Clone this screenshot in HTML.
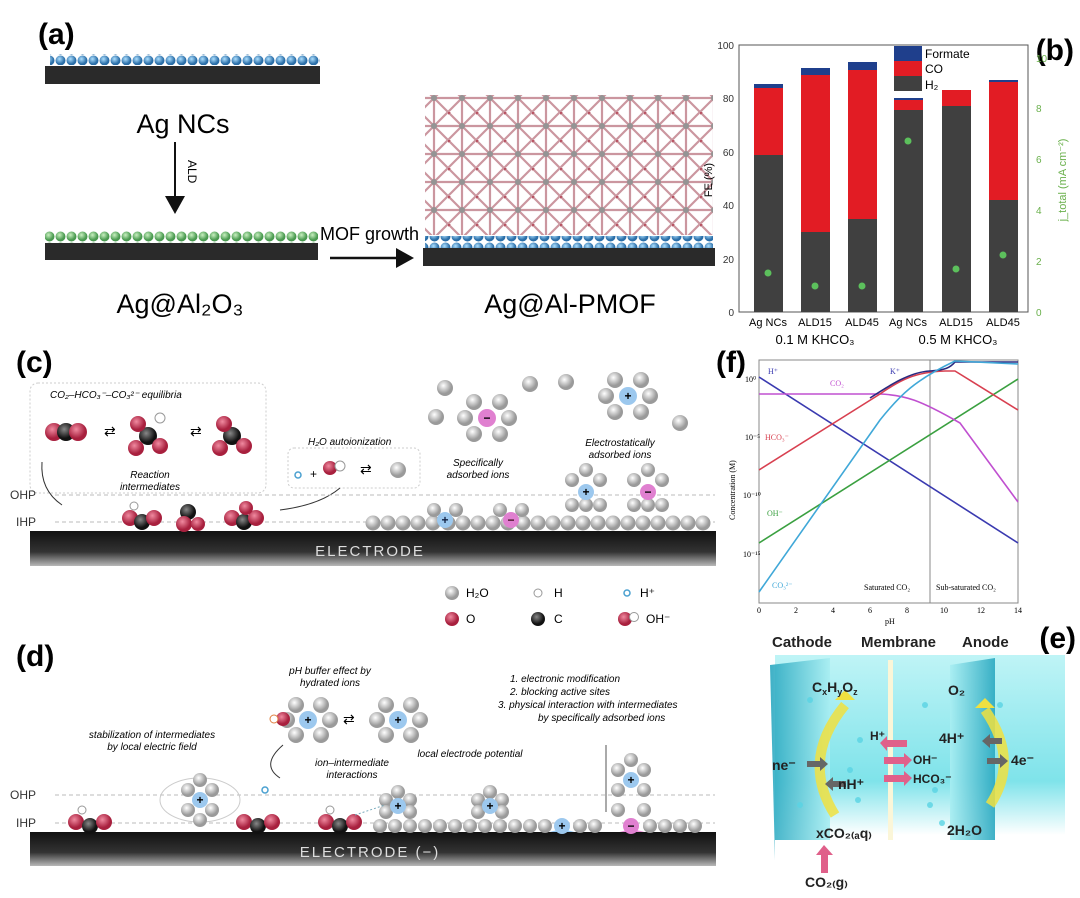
<!DOCTYPE html>
<html><head><meta charset="utf-8"><style>
html,body{margin:0;padding:0;background:#fff}
svg{display:block;font-family:"Liberation Sans",Arial,sans-serif}
</style></head><body>
<svg width="1080" height="898" viewBox="0 0 1080 898" xmlns="http://www.w3.org/2000/svg">
<defs>
<radialGradient id="wb" cx="40%" cy="35%"><stop offset="0" stop-color="#fff"/><stop offset="1" stop-color="#9a9a9a"/></radialGradient>
<radialGradient id="rb" cx="40%" cy="35%"><stop offset="0" stop-color="#f08aa0"/><stop offset="1" stop-color="#a8203e"/></radialGradient>
<radialGradient id="kb" cx="40%" cy="35%"><stop offset="0" stop-color="#888"/><stop offset="1" stop-color="#111"/></radialGradient>
<radialGradient id="bl" cx="40%" cy="35%"><stop offset="0" stop-color="#aee0ff"/><stop offset="1" stop-color="#2a6ea8"/></radialGradient>
<radialGradient id="gr" cx="40%" cy="35%"><stop offset="0" stop-color="#c8f0c0"/><stop offset="1" stop-color="#4a9a50"/></radialGradient>
<linearGradient id="el" x1="0" y1="0" x2="0" y2="1"><stop offset="0" stop-color="#111"/><stop offset="0.6" stop-color="#333"/><stop offset="1" stop-color="#b8b8b8"/></linearGradient>
<linearGradient id="cy" x1="0" y1="0" x2="0" y2="1"><stop offset="0" stop-color="#bff4f6"/><stop offset="0.7" stop-color="#7fe3ea"/><stop offset="1" stop-color="#fff"/></linearGradient>
<linearGradient id="cp" x1="0" y1="0" x2="1" y2="0"><stop offset="0" stop-color="#2aa8c0"/><stop offset="1" stop-color="#a8eef2"/></linearGradient>
<pattern id="blr" width="11" height="11" patternUnits="userSpaceOnUse"><circle cx="5.5" cy="5.5" r="5" fill="url(#bl)"/></pattern>
<pattern id="grr" width="11" height="11" patternUnits="userSpaceOnUse"><circle cx="5.5" cy="5.5" r="5" fill="url(#gr)"/></pattern>
<pattern id="mof" width="28" height="28" patternUnits="userSpaceOnUse"><path d="M0 0L28 28M28 0L0 28M14 0V28M0 14H28" stroke="#c58a94" stroke-width="2.2"/><circle cx="14" cy="14" r="3" fill="#888"/><circle cx="0" cy="0" r="2.5" fill="#b04050"/></pattern>
</defs>

<!-- (a) -->
<text x="38" y="44" font-size="30" font-weight="bold">(a)</text>
<rect x="50" y="54" width="270" height="11" fill="url(#blr)"/>
<rect x="45" y="66" width="275" height="18" fill="#2a2a2a"/>
<text x="183" y="133" font-size="27" text-anchor="middle">Ag NCs</text>
<line x1="175" y1="142" x2="175" y2="198" stroke="#111" stroke-width="2"/>
<polygon points="165,196 185,196 175,214" fill="#111"/>
<text x="188" y="160" font-size="12" transform="rotate(90 188 160)">ALD</text>
<rect x="45" y="231" width="273" height="12" fill="url(#grr)"/>
<rect x="45" y="243" width="273" height="17" fill="#2a2a2a"/>
<text x="180" y="313" font-size="27" text-anchor="middle">Ag@Al₂O₃</text>
<text x="320" y="240" font-size="18">MOF growth</text>
<line x1="330" y1="258" x2="398" y2="258" stroke="#111" stroke-width="2.5"/>
<polygon points="396,248 414,258 396,268" fill="#111"/>
<rect x="425" y="95" width="288" height="140" fill="url(#mof)" opacity="0.9"/>
<rect x="425" y="236" width="288" height="12" fill="url(#blr)"/>
<rect x="423" y="248" width="292" height="18" fill="#2a2a2a"/>
<text x="570" y="313" font-size="27" text-anchor="middle">Ag@Al-PMOF</text>

<!-- (b) -->
<text x="1074" y="60" font-size="30" font-weight="bold" text-anchor="end">(b)</text>
<rect x="739" y="45" width="289" height="267" fill="none" stroke="#555"/>
<g font-size="10" fill="#333" text-anchor="end">
<text x="734" y="49">100</text><text x="734" y="102">80</text><text x="734" y="156">60</text><text x="734" y="209">40</text><text x="734" y="263">20</text><text x="734" y="316">0</text></g>
<text x="712" y="180" font-size="11" text-anchor="middle" transform="rotate(-90 712 180)">FE (%)</text>
<g font-size="10" fill="#6ab04c"><text x="1036" y="62">10</text><text x="1036" y="112">8</text><text x="1036" y="163">6</text><text x="1036" y="214">4</text><text x="1036" y="265">2</text><text x="1036" y="316">0</text></g>
<text x="1066" y="180" font-size="11" fill="#6ab04c" text-anchor="middle" transform="rotate(-90 1066 180)">j_total (mA cm⁻²)</text>
<g>
<rect x="754" y="155" width="29" height="157" fill="#404040"/><rect x="754" y="88" width="29" height="67" fill="#e21c24"/><rect x="754" y="84" width="29" height="4" fill="#1f3f8c"/>
<rect x="801" y="232" width="29" height="80" fill="#404040"/><rect x="801" y="75" width="29" height="157" fill="#e21c24"/><rect x="801" y="68" width="29" height="7" fill="#1f3f8c"/>
<rect x="848" y="219" width="29" height="93" fill="#404040"/><rect x="848" y="70" width="29" height="149" fill="#e21c24"/><rect x="848" y="62" width="29" height="8" fill="#1f3f8c"/>
<rect x="894" y="110" width="29" height="202" fill="#404040"/><rect x="894" y="100" width="29" height="10" fill="#e21c24"/><rect x="894" y="98" width="29" height="2" fill="#1f3f8c"/>
<rect x="942" y="106" width="29" height="206" fill="#404040"/><rect x="942" y="90" width="29" height="16" fill="#e21c24"/>
<rect x="989" y="200" width="29" height="112" fill="#404040"/><rect x="989" y="82" width="29" height="118" fill="#e21c24"/><rect x="989" y="80" width="29" height="2" fill="#1f3f8c"/>
</g>
<g fill="#5cc05c"><circle cx="768" cy="273" r="3.5"/><circle cx="815" cy="286" r="3.5"/><circle cx="862" cy="286" r="3.5"/><circle cx="908" cy="141" r="3.5"/><circle cx="956" cy="269" r="3.5"/><circle cx="1003" cy="255" r="3.5"/></g>
<rect x="894" y="46" width="28" height="15" fill="#1f3f8c"/><rect x="894" y="61" width="28" height="15" fill="#e21c24"/><rect x="894" y="76" width="28" height="15" fill="#404040"/>
<g font-size="12"><text x="925" y="58">Formate</text><text x="925" y="73">CO</text><text x="925" y="89">H₂</text></g>
<g font-size="11" text-anchor="middle"><text x="768" y="326">Ag NCs</text><text x="815" y="326">ALD15</text><text x="862" y="326">ALD45</text><text x="908" y="326">Ag NCs</text><text x="956" y="326">ALD15</text><text x="1003" y="326">ALD45</text></g>
<g font-size="13" text-anchor="middle"><text x="815" y="344">0.1 M KHCO₃</text><text x="958" y="344">0.5 M KHCO₃</text></g>

<!-- (c) -->
<text x="16" y="372" font-size="30" font-weight="bold">(c)</text>
<rect x="30" y="383" width="236" height="110" rx="8" fill="none" stroke="#ccc" stroke-dasharray="2 2"/>
<text x="50" y="398" font-size="10" font-style="italic">CO₂–HCO₃⁻–CO₃²⁻ equilibria</text>
<g><circle cx="54" cy="432" r="9" fill="url(#rb)"/><circle cx="66" cy="432" r="9" fill="url(#kb)"/><circle cx="78" cy="432" r="9" fill="url(#rb)"/>
<text x="104" y="436" font-size="14">⇄</text>
<circle cx="148" cy="436" r="9" fill="url(#kb)"/><circle cx="138" cy="424" r="8" fill="url(#rb)"/><circle cx="160" cy="446" r="8" fill="url(#rb)"/><circle cx="136" cy="448" r="8" fill="url(#rb)"/><circle cx="160" cy="418" r="5" fill="#fff" stroke="#999"/>
<text x="190" y="436" font-size="14">⇄</text>
<circle cx="232" cy="436" r="9" fill="url(#kb)"/><circle cx="224" cy="424" r="8" fill="url(#rb)"/><circle cx="244" cy="446" r="8" fill="url(#rb)"/><circle cx="220" cy="448" r="8" fill="url(#rb)"/></g>
<text x="150" y="478" font-size="10" font-style="italic" text-anchor="middle">Reaction</text>
<text x="150" y="490" font-size="10" font-style="italic" text-anchor="middle">intermediates</text>
<path d="M42 462 Q40 490 62 505" fill="none" stroke="#333"/>
<rect x="288" y="448" width="132" height="40" rx="6" fill="none" stroke="#ccc" stroke-dasharray="2 2"/>
<text x="308" y="445" font-size="10" font-style="italic">H₂O autoionization</text>
<circle cx="298" cy="475" r="3" fill="none" stroke="#4aa0d0" stroke-width="1.5"/><text x="310" y="478" font-size="12">+</text>
<circle cx="330" cy="468" r="7" fill="url(#rb)"/><circle cx="340" cy="466" r="5" fill="#fff" stroke="#999"/>
<text x="360" y="474" font-size="14">⇄</text><circle cx="398" cy="470" r="8" fill="url(#wb)"/>
<path d="M340 488 Q320 505 280 510" fill="none" stroke="#333"/>
<g stroke="#bbb" stroke-dasharray="4 3"><line x1="55" y1="495" x2="715" y2="495"/><line x1="55" y1="522" x2="715" y2="522"/></g>
<text x="10" y="499" font-size="12" fill="#333">OHP</text><text x="16" y="526" font-size="12" fill="#333">IHP</text>
<rect x="30" y="531" width="686" height="35" fill="url(#el)"/>
<text x="370" y="556" font-size="15" fill="#ddd" text-anchor="middle" letter-spacing="2">ELECTRODE</text>
<g><circle cx="130" cy="518" r="8" fill="url(#rb)"/><circle cx="142" cy="522" r="8" fill="url(#kb)"/><circle cx="154" cy="518" r="8" fill="url(#rb)"/><circle cx="134" cy="506" r="4" fill="#fff" stroke="#999"/>
<circle cx="188" cy="512" r="8" fill="url(#kb)"/><circle cx="184" cy="524" r="8" fill="url(#rb)"/><circle cx="198" cy="524" r="7" fill="url(#rb)"/>
<circle cx="232" cy="518" r="8" fill="url(#rb)"/><circle cx="244" cy="522" r="8" fill="url(#kb)"/><circle cx="256" cy="518" r="8" fill="url(#rb)"/><circle cx="246" cy="508" r="7" fill="url(#rb)"/></g>
<g fill="url(#wb)">
<circle cx="373" cy="523" r="7.5"/><circle cx="388" cy="523" r="7.5"/><circle cx="403" cy="523" r="7.5"/><circle cx="418" cy="523" r="7.5"/><circle cx="433" cy="523" r="7.5"/><circle cx="448" cy="523" r="7.5"/><circle cx="463" cy="523" r="7.5"/><circle cx="478" cy="523" r="7.5"/><circle cx="493" cy="523" r="7.5"/><circle cx="508" cy="523" r="7.5"/><circle cx="523" cy="523" r="7.5"/><circle cx="538" cy="523" r="7.5"/><circle cx="553" cy="523" r="7.5"/><circle cx="568" cy="523" r="7.5"/><circle cx="583" cy="523" r="7.5"/><circle cx="598" cy="523" r="7.5"/><circle cx="613" cy="523" r="7.5"/><circle cx="628" cy="523" r="7.5"/><circle cx="643" cy="523" r="7.5"/><circle cx="658" cy="523" r="7.5"/><circle cx="673" cy="523" r="7.5"/><circle cx="688" cy="523" r="7.5"/><circle cx="703" cy="523" r="7.5"/>
<circle cx="434" cy="510" r="7"/><circle cx="456" cy="510" r="7"/><circle cx="500" cy="510" r="7"/><circle cx="522" cy="510" r="7"/>
<circle cx="572" cy="505" r="7"/><circle cx="600" cy="505" r="7"/><circle cx="572" cy="480" r="7"/><circle cx="600" cy="480" r="7"/><circle cx="586" cy="470" r="7"/><circle cx="586" cy="505" r="7"/>
<circle cx="634" cy="505" r="7"/><circle cx="662" cy="505" r="7"/><circle cx="634" cy="480" r="7"/><circle cx="662" cy="480" r="7"/><circle cx="648" cy="470" r="7"/><circle cx="648" cy="505" r="7"/>
<circle cx="445" cy="388" r="8"/><circle cx="436" cy="417" r="8"/><circle cx="566" cy="382" r="8"/><circle cx="680" cy="423" r="8"/><circle cx="530" cy="384" r="8"/>
<circle cx="474" cy="402" r="8"/><circle cx="500" cy="402" r="8"/><circle cx="465" cy="418" r="8"/><circle cx="509" cy="418" r="8"/><circle cx="474" cy="434" r="8"/><circle cx="500" cy="434" r="8"/>
<circle cx="615" cy="380" r="8"/><circle cx="641" cy="380" r="8"/><circle cx="606" cy="396" r="8"/><circle cx="650" cy="396" r="8"/><circle cx="615" cy="412" r="8"/><circle cx="641" cy="412" r="8"/>
</g>
<g font-size="12" font-weight="bold" text-anchor="middle">
<circle cx="445" cy="520" r="8" fill="#9cc8ee"/><text x="445" y="524" fill="#124">+</text>
<circle cx="511" cy="520" r="8" fill="#e080d0"/><text x="511" y="524" fill="#412">−</text>
<circle cx="586" cy="492" r="8" fill="#9cc8ee"/><text x="586" y="496">+</text>
<circle cx="648" cy="492" r="8" fill="#e080d0"/><text x="648" y="496">−</text>
<circle cx="487" cy="418" r="9" fill="#e080d0"/><text x="487" y="422">−</text>
<circle cx="628" cy="396" r="9" fill="#9cc8ee"/><text x="628" y="400">+</text></g>
<g font-size="10" font-style="italic" text-anchor="middle"><text x="478" y="466">Specifically</text><text x="478" y="478">adsorbed ions</text><text x="620" y="446">Electrostatically</text><text x="620" y="458">adsorbed ions</text></g>
<g font-size="12"><circle cx="452" cy="593" r="7" fill="url(#wb)"/><text x="466" y="597">H₂O</text>
<circle cx="538" cy="593" r="4" fill="#fff" stroke="#999"/><text x="554" y="597">H</text>
<circle cx="627" cy="593" r="3" fill="none" stroke="#4aa0d0" stroke-width="1.5"/><text x="640" y="597">H⁺</text>
<circle cx="452" cy="619" r="7" fill="url(#rb)"/><text x="466" y="623">O</text>
<circle cx="538" cy="619" r="7" fill="url(#kb)"/><text x="554" y="623">C</text>
<circle cx="625" cy="619" r="7" fill="url(#rb)"/><circle cx="634" cy="617" r="4.5" fill="#fff" stroke="#999"/><text x="646" y="623">OH⁻</text></g>

<!-- (d) -->
<text x="16" y="666" font-size="30" font-weight="bold">(d)</text>
<text x="330" y="674" font-size="10" font-style="italic" text-anchor="middle">pH buffer effect by</text>
<text x="330" y="686" font-size="10" font-style="italic" text-anchor="middle">hydrated ions</text>
<g fill="url(#wb)"><circle cx="296" cy="705" r="8"/><circle cx="321" cy="705" r="8"/><circle cx="287" cy="720" r="8"/><circle cx="330" cy="720" r="8"/><circle cx="296" cy="735" r="8"/><circle cx="321" cy="735" r="8"/>
<circle cx="386" cy="705" r="8"/><circle cx="411" cy="705" r="8"/><circle cx="377" cy="720" r="8"/><circle cx="420" cy="720" r="8"/><circle cx="386" cy="735" r="8"/><circle cx="411" cy="735" r="8"/></g>
<circle cx="283" cy="719" r="7" fill="url(#rb)"/><circle cx="274" cy="719" r="4" fill="#fff" stroke="#e08040"/>
<circle cx="308" cy="720" r="9" fill="#9cc8ee"/><text x="308" y="724" font-size="12" text-anchor="middle" font-weight="bold">+</text>
<text x="343" y="724" font-size="14">⇄</text>
<circle cx="398" cy="720" r="9" fill="#9cc8ee"/><text x="398" y="724" font-size="12" text-anchor="middle" font-weight="bold">+</text>
<path d="M283 745 Q260 765 280 778" fill="none" stroke="#333"/><circle cx="265" cy="790" r="3" fill="none" stroke="#4aa0d0" stroke-width="1.5"/>
<g font-size="10" font-style="italic"><text x="510" y="682">1. electronic modification</text><text x="510" y="695">2. blocking active sites</text><text x="498" y="708">3. physical interaction with intermediates</text><text x="538" y="721">by specifically adsorbed ions</text>
<text x="152" y="738" text-anchor="middle">stabilization of intermediates</text><text x="152" y="750" text-anchor="middle">by local electric field</text>
<text x="352" y="766" text-anchor="middle">ion–intermediate</text><text x="352" y="778" text-anchor="middle">interactions</text>
<text x="470" y="757" text-anchor="middle">local electrode potential</text></g>
<line x1="606" y1="745" x2="606" y2="812" stroke="#555"/>
<g stroke="#bbb" stroke-dasharray="4 3"><line x1="55" y1="795" x2="715" y2="795"/><line x1="55" y1="823" x2="715" y2="823"/></g>
<text x="10" y="799" font-size="12" fill="#333">OHP</text><text x="16" y="827" font-size="12" fill="#333">IHP</text>
<ellipse cx="562" cy="842" rx="22" ry="12" fill="#6ab4f0" opacity="0.7"/><ellipse cx="632" cy="842" rx="22" ry="12" fill="#e060c8" opacity="0.7"/>
<rect x="30" y="832" width="686" height="34" fill="url(#el)"/>
<text x="370" y="857" font-size="15" fill="#ddd" text-anchor="middle" letter-spacing="2">ELECTRODE (−)</text>
<g><circle cx="76" cy="822" r="8" fill="url(#rb)"/><circle cx="90" cy="826" r="8" fill="url(#kb)"/><circle cx="104" cy="822" r="8" fill="url(#rb)"/><circle cx="82" cy="810" r="4" fill="#fff" stroke="#999"/>
<circle cx="244" cy="822" r="8" fill="url(#rb)"/><circle cx="258" cy="826" r="8" fill="url(#kb)"/><circle cx="272" cy="822" r="8" fill="url(#rb)"/>
<circle cx="326" cy="822" r="8" fill="url(#rb)"/><circle cx="340" cy="826" r="8" fill="url(#kb)"/><circle cx="354" cy="822" r="8" fill="url(#rb)"/><circle cx="330" cy="810" r="4" fill="#fff" stroke="#999"/></g>
<ellipse cx="200" cy="800" rx="40" ry="22" fill="none" stroke="#ccc"/>
<g fill="url(#wb)"><circle cx="188" cy="790" r="7"/><circle cx="212" cy="790" r="7"/><circle cx="188" cy="810" r="7"/><circle cx="212" cy="810" r="7"/><circle cx="200" cy="780" r="7"/><circle cx="200" cy="820" r="7"/>
<circle cx="380" cy="826" r="7"/><circle cx="395" cy="826" r="7"/><circle cx="410" cy="826" r="7"/><circle cx="425" cy="826" r="7"/><circle cx="440" cy="826" r="7"/><circle cx="455" cy="826" r="7"/><circle cx="470" cy="826" r="7"/><circle cx="485" cy="826" r="7"/><circle cx="500" cy="826" r="7"/><circle cx="515" cy="826" r="7"/><circle cx="530" cy="826" r="7"/><circle cx="545" cy="826" r="7"/><circle cx="580" cy="826" r="7"/><circle cx="595" cy="826" r="7"/><circle cx="650" cy="826" r="7"/><circle cx="665" cy="826" r="7"/><circle cx="680" cy="826" r="7"/><circle cx="695" cy="826" r="7"/>
<circle cx="386" cy="800" r="7"/><circle cx="410" cy="800" r="7"/><circle cx="386" cy="812" r="7"/><circle cx="410" cy="812" r="7"/><circle cx="398" cy="792" r="7"/>
<circle cx="478" cy="800" r="7"/><circle cx="502" cy="800" r="7"/><circle cx="478" cy="812" r="7"/><circle cx="502" cy="812" r="7"/><circle cx="490" cy="792" r="7"/>
<circle cx="618" cy="770" r="7"/><circle cx="644" cy="770" r="7"/><circle cx="618" cy="790" r="7"/><circle cx="644" cy="790" r="7"/><circle cx="631" cy="760" r="7"/><circle cx="618" cy="810" r="7"/><circle cx="644" cy="810" r="7"/></g>
<g font-size="12" font-weight="bold" text-anchor="middle">
<circle cx="200" cy="800" r="8" fill="#9cc8ee"/><text x="200" y="804">+</text>
<circle cx="398" cy="806" r="8" fill="#9cc8ee"/><text x="398" y="810">+</text>
<circle cx="490" cy="806" r="8" fill="#9cc8ee"/><text x="490" y="810">+</text>
<circle cx="562" cy="826" r="8" fill="#9cc8ee"/><text x="562" y="830">+</text>
<circle cx="631" cy="826" r="8" fill="#e080d0"/><text x="631" y="830">−</text>
<circle cx="631" cy="780" r="8" fill="#9cc8ee"/><text x="631" y="784">+</text></g>
<line x1="355" y1="815" x2="385" y2="805" stroke="#7ab" stroke-dasharray="2 2"/>

<!-- (f) -->
<text x="716" y="372" font-size="30" font-weight="bold">(f)</text>
<rect x="759" y="360" width="259" height="243" fill="#fff" stroke="#888"/>
<line x1="930" y1="360" x2="930" y2="603" stroke="#888"/>
<g fill="none" stroke-width="1.6">
<polyline points="759,377 1018,543" stroke="#3a3ab0"/>
<polyline points="759,543 1018,379" stroke="#3aa040"/>
<path d="M759,394 L880,394 C905,395 920,400 960,423 L1018,502" stroke="#c050d0"/>
<path d="M759,470 L880,394 C900,380 915,372 945,371 L955,371 L1018,410" stroke="#d84050"/>
<path d="M870,398 C890,385 910,372 930,371 C945,370 950,368 955,362 L1018,362" stroke="#2a2a80"/>
<path d="M759,592 L880,420 C900,395 915,380 955,361 L1018,364" stroke="#40a8d8"/>
</g>
<g font-family="Liberation Serif,serif" font-size="8">
<text x="768" y="374" fill="#3a3ab0">H⁺</text><text x="830" y="386" fill="#c050d0">CO₂</text><text x="890" y="374" fill="#3a3ab0">K⁺</text>
<text x="765" y="440" fill="#d84050">HCO₃⁻</text><text x="767" y="516" fill="#3aa040">OH⁻</text><text x="772" y="588" fill="#40a8d8">CO₃²⁻</text>
<text x="864" y="590">Saturated CO₂</text><text x="936" y="590">Sub-saturated CO₂</text>
<text x="745" y="382">10⁰</text><text x="745" y="440">10⁻⁵</text><text x="743" y="498">10⁻¹⁰</text><text x="743" y="557">10⁻¹⁵</text>
<text x="757" y="613">0</text><text x="794" y="613">2</text><text x="831" y="613">4</text><text x="868" y="613">6</text><text x="905" y="613">8</text><text x="940" y="613">10</text><text x="977" y="613">12</text><text x="1014" y="613">14</text>
<text x="885" y="624">pH</text>
<text x="735" y="520" transform="rotate(-90 735 520)">Concentration (M)</text></g>

<!-- (e) -->
<rect x="775" y="655" width="290" height="180" fill="url(#cy)"/>
<polygon points="770,665 830,658 830,840 775,860" fill="url(#cp)" opacity="0.9"/>
<polygon points="955,658 1000,665 1000,860 955,840" fill="url(#cp)" opacity="0.9" transform="translate(1950,0) scale(-1,1)"/>
<rect x="888" y="660" width="5" height="210" fill="#fbf6d8"/>
<rect x="775" y="840" width="290" height="58" fill="#fff"/>
<path d="M835 815 Q800 760 845 705" fill="none" stroke="#f0e040" stroke-width="10" opacity="0.85"/>
<polygon points="835,700 855,700 845,690" fill="#f0e040"/>
<path d="M990 805 Q1020 760 985 710" fill="none" stroke="#f0e040" stroke-width="10" opacity="0.85"/>
<polygon points="975,708 995,708 985,698" fill="#f0e040"/>
<g fill="#e0608a"><rect x="887" y="740" width="20" height="7"/><polygon points="887,736 887,751 880,743"/>
<rect x="884" y="757" width="20" height="7"/><polygon points="904,753 904,768 912,760"/>
<rect x="884" y="775" width="20" height="7"/><polygon points="904,771 904,786 912,778"/>
<rect x="821" y="853" width="7" height="20"/><polygon points="816,855 833,855 824,845"/></g>
<g fill="#666"><polygon points="807,761 820,761 820,757 828,764 820,771 820,767 807,767"/><polygon points="846,781 833,781 833,777 825,784 833,791 833,787 846,787"/><polygon points="1002,738 990,738 990,734 982,741 990,748 990,744 1002,744"/><polygon points="987,758 1000,758 1000,754 1008,761 1000,768 1000,764 987,764"/></g>
<g font-weight="bold" fill="#222"><g font-size="15"><text x="772" y="647">Cathode</text><text x="861" y="647">Membrane</text><text x="962" y="647">Anode</text></g>
<g font-size="14"><text x="812" y="692">C<tspan font-size="9" dy="3">x</tspan><tspan dy="-3">H</tspan><tspan font-size="9" dy="3">y</tspan><tspan dy="-3">O</tspan><tspan font-size="9" dy="3">z</tspan></text><text x="948" y="695">O₂</text><text x="870" y="740" font-size="12">H⁺</text><text x="913" y="764" font-size="12">OH⁻</text><text x="913" y="783" font-size="12">HCO₃⁻</text>
<text x="939" y="743">4H⁺</text><text x="1011" y="765">4e⁻</text><text x="772" y="770">ne⁻</text><text x="838" y="789">nH⁺</text><text x="816" y="838">xCO₂₍ₐq₎</text><text x="947" y="835">2H₂O</text><text x="805" y="887">CO₂₍g₎</text></g></g>
<text x="1076" y="648" font-size="30" font-weight="bold" text-anchor="end">(e)</text>
<g fill="#5ad4e4" opacity="0.8"><circle cx="810" cy="700" r="3"/><circle cx="860" cy="740" r="3"/><circle cx="850" cy="770" r="3"/><circle cx="858" cy="800" r="3"/><circle cx="925" cy="705" r="3"/><circle cx="935" cy="790" r="3"/><circle cx="930" cy="805" r="3"/><circle cx="942" cy="823" r="3"/><circle cx="1000" cy="705" r="3"/><circle cx="800" cy="805" r="3"/></g>
</svg>
</body></html>
